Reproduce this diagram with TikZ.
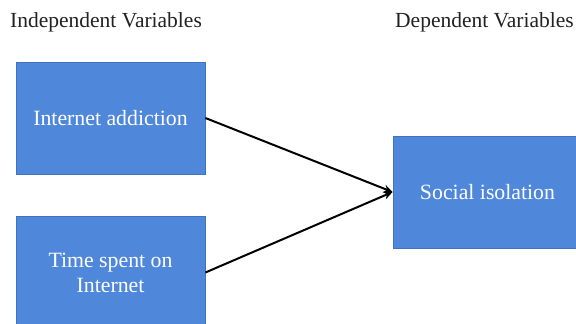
\documentclass[tikz,border=0pt]{standalone}
\usepackage{fontspec}
\setmainfont{Liberation Serif}
\usetikzlibrary{arrows.meta}
\definecolor{boxblue}{HTML}{4F88DB}
\definecolor{boxedge}{HTML}{3F72C0}
\definecolor{titlegray}{HTML}{222222}
\tikzset{
  varbox/.style={draw=boxedge, line width=0.8pt, fill=boxblue, text=white,
    minimum width=189pt, minimum height=112pt, align=center, inner sep=2pt,
    font=\fontsize{21.8}{25}\selectfont},
  heading/.style={text=titlegray, inner sep=0pt, anchor=west,
    font=\fontsize{21.5}{25}\selectfont},
  link/.style={line width=2pt, draw=black, -{Stealth[length=9pt,width=8pt]}}
}
\begin{document}
\begin{tikzpicture}[x=1pt,y=-1pt]
\useasboundingbox (0,0) rectangle (576,324);
\clip (0,0) rectangle (576,324);
\node[heading] (hind) at (10,22) {Independent Variables};
\node[heading] (hdep) at (395,22) {Dependent Variables};
\node[varbox] (ia) at (110.5,118) {Internet addiction};
\node[varbox] (ts) at (110.5,272.5) {Time spent on\\Internet};
\node[varbox] (si) at (487.5,192) {Social isolation};
\draw[link] (ia.east) -- (si.west);
\draw[link] (ts.east) -- (si.west);
\end{tikzpicture}
\end{document}
